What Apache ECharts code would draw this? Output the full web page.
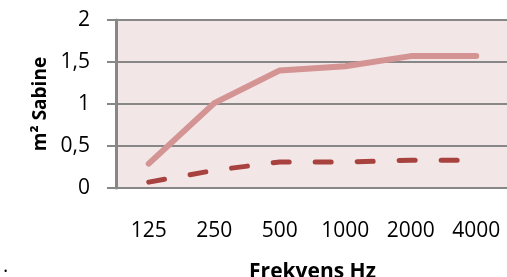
<!DOCTYPE html>
<html>
<head>
<meta charset="utf-8">
<script src="https://cdn.jsdelivr.net/npm/echarts@6/dist/echarts.min.js"></script>
<style>
  html, body { margin: 0; padding: 0; background: #fff; }
  #main { width: 507px; height: 277px; }
</style>
</head>
<body>
<div id="main"></div>
<script>
// data
const frequencies = ['125', '250', '500', '1000', '2000', '4000'];
const sabineSolid = [0.29, 1.01, 1.40, 1.45, 1.57, 1.57];
const sabineDashed = [0.07, 0.21, 0.31, 0.31, 0.33, 0.33];
const yTicks = [0, 0.5, 1, 1.5, 2];

const font = '"Open Sans", "Liberation Sans", sans-serif';
const chart = echarts.init(document.getElementById('main'));

chart.setOption({
    animation: false,
    textStyle: { fontFamily: font },
    grid: {
        left: 116,
        top: 20,
        bottom: 89,
        right: -2,
        outerBoundsMode: 'none',
        containLabel: false,
        show: true,
        backgroundColor: '#f2e6e6',
        borderWidth: 0
    },
    graphic: [{
        type: 'text',
        left: 3,
        top: 256,
        style: { text: '.', font: '20px ' + font, fill: '#000' }
    }],
    xAxis: {
        type: 'category',
        data: frequencies,
        boundaryGap: true,
        name: 'Frekvens Hz',
        nameLocation: 'middle',
        nameGap: 74,
        nameTextStyle: { fontFamily: font, fontWeight: 'bold', fontSize: 21, color: '#000' },
        axisLine: { lineStyle: { color: '#878787', width: 2 } },
        axisTick: { show: false },
        axisLabel: { margin: 33, fontSize: 21, color: '#000', fontFamily: font }
    },
    yAxis: {
        type: 'value',
        min: yTicks[0],
        max: yTicks[yTicks.length - 1],
        interval: 0.5,
        name: 'm² Sabine',
        nameLocation: 'middle',
        nameGap: 66,
        nameTextStyle: { fontFamily: font, fontWeight: 'bold', fontSize: 19, color: '#000' },
        axisLine: { show: true, lineStyle: { color: '#878787', width: 3 } },
        axisTick: { show: true, length: 9, lineStyle: { color: '#878787', width: 2 } },
        splitLine: { lineStyle: { color: '#878787', width: 2 } },
        axisLabel: {
            margin: 26,
            fontSize: 21,
            color: '#000',
            fontFamily: font,
            formatter: v => String(v).replace('.', ',')
        }
    },
    series: [
        {
            type: 'line',
            data: sabineSolid,
            symbol: 'none',
            lineStyle: { color: '#d49494', width: 6, cap: 'round', join: 'round' }
        },
        {
            type: 'line',
            data: sabineDashed,
            symbol: 'none',
            lineStyle: { color: '#a8423f', width: 5, type: [16, 26], cap: 'round' }
        }
    ]
});
</script>
</body>
</html>
